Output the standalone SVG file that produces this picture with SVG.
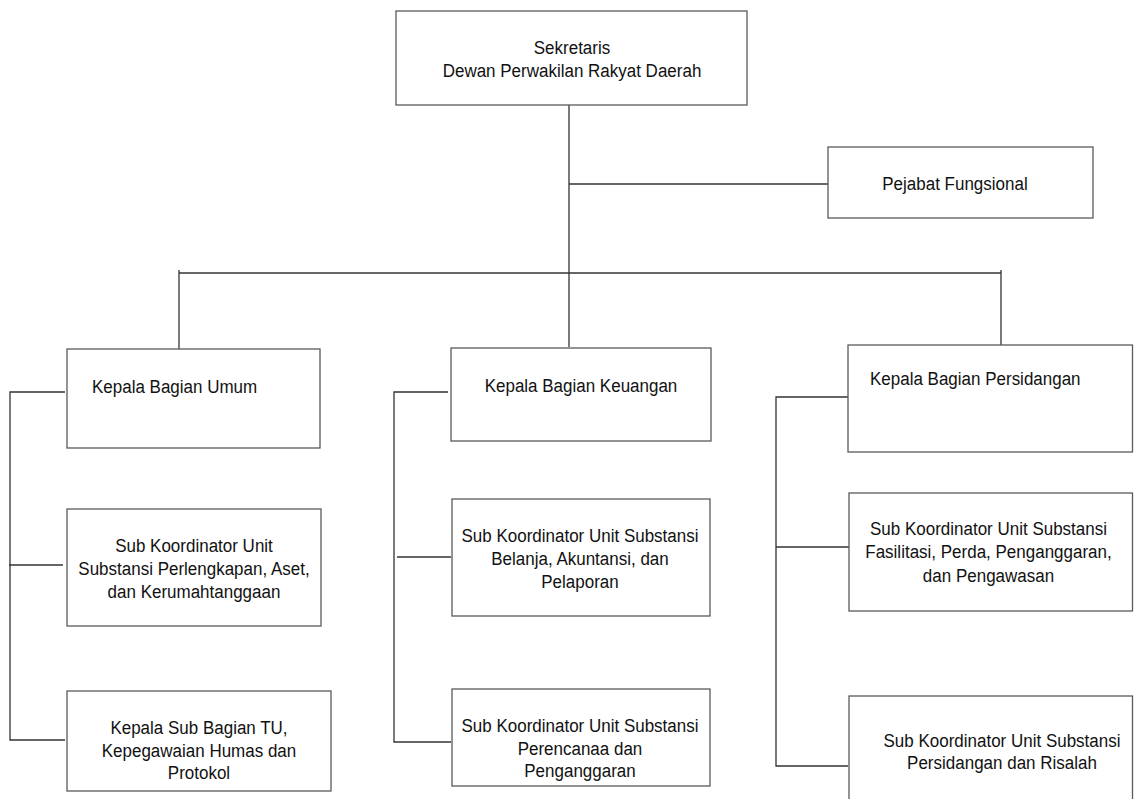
<svg xmlns="http://www.w3.org/2000/svg" width="1134" height="799" viewBox="0 0 1134 799">
<style>
.box{fill:#fff;stroke:#5a5a5a;stroke-width:1.3}
.ln{fill:none;stroke:#333;stroke-width:1.3}
text{font-family:"Liberation Sans",Arial,sans-serif;font-size:17px;fill:#111}
.c{text-anchor:middle}
</style>
<rect width="1134" height="799" fill="#fff"/>
<g id="connectors">
<path class="ln" d="M569,105 V347"/>
<path class="ln" d="M569,184 H828"/>
<path class="ln" d="M179,273 H1001"/>
<path class="ln" d="M179,270 V349"/>
<path class="ln" d="M1001,270 V345"/>
<path class="ln" d="M65,392 H10 V740 H65"/>
<path class="ln" d="M9,565 H63"/>
<path class="ln" d="M448,392 H394 V742 H451"/>
<path class="ln" d="M397,557 H451"/>
<path class="ln" d="M848,397 H776 V766 H848"/>
<path class="ln" d="M776,547 H849"/>
</g>
<g id="sekretaris">
<rect class="box" x="396" y="11" width="351" height="94"/>
<text class="c" x="572" y="54" transform="matrix(1,0,0,1.12,0,-6.48)">Sekretaris</text>
<text class="c" x="572" y="77" transform="matrix(1,0,0,1.12,0,-9.24)">Dewan Perwakilan Rakyat Daerah</text>
</g>
<g id="pejabat">
<rect class="box" x="828" y="147" width="265" height="71"/>
<text class="c" x="955" y="190" transform="matrix(1,0,0,1.12,0,-22.8)">Pejabat Fungsional</text>
</g>
<g id="kabag-umum">
<rect class="box" x="67" y="349" width="253" height="99"/>
<text x="92" y="393" transform="matrix(1,0,0,1.12,0,-47.16)">Kepala Bagian Umum</text>
</g>
<g id="sub-perlengkapan">
<rect class="box" x="67" y="509" width="254" height="117"/>
<text class="c" x="194" y="552" transform="matrix(1,0,0,1.12,0,-66.24)">Sub Koordinator Unit</text>
<text class="c" x="194" y="575" transform="matrix(1,0,0,1.12,0,-69)">Substansi Perlengkapan, Aset,</text>
<text class="c" x="194" y="598" transform="matrix(1,0,0,1.12,0,-71.76)">dan Kerumahtanggaan</text>
</g>
<g id="kasubag-tu">
<rect class="box" x="67" y="691" width="264" height="100"/>
<text class="c" x="199" y="734" transform="matrix(1,0,0,1.12,0,-88.08)">Kepala Sub Bagian TU,</text>
<text class="c" x="199" y="757" transform="matrix(1,0,0,1.12,0,-90.84)">Kepegawaian Humas dan</text>
<text class="c" x="199" y="779" transform="matrix(1,0,0,1.12,0,-93.48)">Protokol</text>
</g>
<g id="kabag-keuangan">
<rect class="box" x="451" y="348" width="260" height="93"/>
<text class="c" x="581" y="392" transform="matrix(1,0,0,1.12,0,-47.04)">Kepala Bagian Keuangan</text>
</g>
<g id="sub-belanja">
<rect class="box" x="452" y="499" width="258" height="117"/>
<text class="c" x="580" y="542" transform="matrix(1,0,0,1.12,0,-65.04)">Sub Koordinator Unit Substansi</text>
<text class="c" x="580" y="565" transform="matrix(1,0,0,1.12,0,-67.8)">Belanja, Akuntansi, dan</text>
<text class="c" x="580" y="588" transform="matrix(1,0,0,1.12,0,-70.56)">Pelaporan</text>
</g>
<g id="sub-perencanaan">
<rect class="box" x="452" y="689" width="258" height="97"/>
<text class="c" x="580" y="732" transform="matrix(1,0,0,1.12,0,-87.84)">Sub Koordinator Unit Substansi</text>
<text class="c" x="580" y="755" transform="matrix(1,0,0,1.12,0,-90.6)">Perencanaa dan</text>
<text class="c" x="580" y="777" transform="matrix(1,0,0,1.12,0,-93.24)">Penganggaran</text>
</g>
<g id="kabag-persidangan">
<rect class="box" x="848" y="345" width="284.5" height="107"/>
<text x="870" y="385" transform="matrix(1,0,0,1.12,0,-46.2)">Kepala Bagian Persidangan</text>
</g>
<g id="sub-fasilitasi">
<rect class="box" x="849" y="493" width="283.5" height="118"/>
<text class="c" x="988.5" y="535" transform="matrix(1,0,0,1.12,0,-64.2)">Sub Koordinator Unit Substansi</text>
<text class="c" x="988.5" y="558" transform="matrix(1,0,0,1.12,0,-66.96)">Fasilitasi, Perda, Penganggaran,</text>
<text class="c" x="988.5" y="582" transform="matrix(1,0,0,1.12,0,-69.84)">dan Pengawasan</text>
</g>
<g id="sub-persidangan">
<rect class="box" x="849" y="696" width="283.5" height="110"/>
<text class="c" x="1002" y="747" transform="matrix(1,0,0,1.12,0,-89.64)">Sub Koordinator Unit Substansi</text>
<text class="c" x="1002" y="769" transform="matrix(1,0,0,1.12,0,-92.28)">Persidangan dan Risalah</text>
</g>
</svg>
